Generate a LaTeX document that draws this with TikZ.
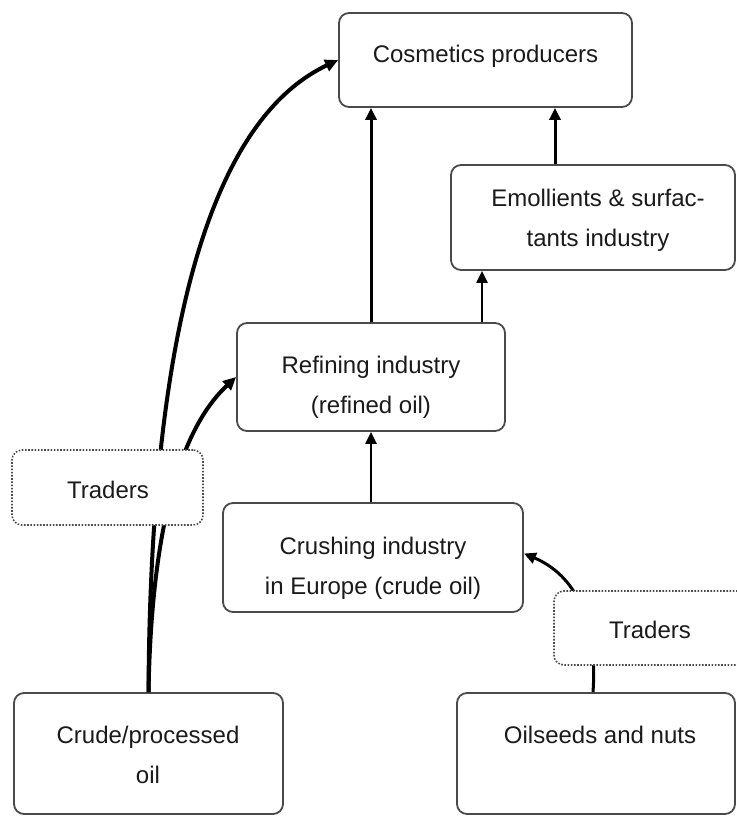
\documentclass[tikz,border=0pt]{standalone}
\usepackage{fontspec}
\setmainfont{Liberation Sans}
\usetikzlibrary{arrows.meta}
\definecolor{boxgray}{HTML}{4A4A4A}
\definecolor{txtcol}{HTML}{1A1A1A}
\tikzset{
  box/.style={draw=boxgray, line width=1.8pt, rounded corners=10pt, fill=white, inner sep=0pt},
  dotbox/.style={draw=boxgray, line width=1.6pt, dash pattern=on 1.6pt off 1.6pt, rounded corners=10pt, fill=white, inner sep=0pt},
  txt/.style={font=\fontsize{24}{40}\selectfont, text=txtcol, align=center, inner sep=0pt},
  thinarrow/.style={draw=black, line width=2.2pt, -{Triangle[length=12pt,width=11pt]}},
  midarrow/.style={draw=black, line width=3pt, -{Triangle[length=12pt,width=11pt]}},
  thickarrow/.style={draw=black, line width=4pt, -{Triangle[length=13pt,width=12pt]}},
}
\begin{document}
\begin{tikzpicture}[x=1pt,y=-1pt]
\useasboundingbox (0,0) rectangle (736,816);

% coordinates for connector paths
\coordinate (c1) at (150,400);
\coordinate (c2) at (190,130);
\coordinate (c3) at (152,500);
\coordinate (c4) at (190,420);
\coordinate (c5) at (598,620);
\coordinate (c6) at (575,575);

% boxes
\node[box, minimum width=293pt, minimum height=94pt] (cos) at (485.5,60) {};
\node[box, minimum width=284pt, minimum height=105pt] (emo) at (593,217.5) {};
\node[box, minimum width=268pt, minimum height=108pt] (ref) at (371,377) {};
\node[box, minimum width=300pt, minimum height=109pt] (cru) at (373,557.5) {};
\node[box, minimum width=269pt, minimum height=121pt] (crude) at (148.5,753.5) {};
\node[box, minimum width=278pt, minimum height=121pt] (seed) at (596,753.5) {};

% connectors
\draw[thickarrow] (crude.north) .. controls (c1) and (c2) .. (cos.west);
\draw[thickarrow] (crude.north) .. controls (c3) and (c4) .. (ref.west);
\draw[midarrow] (ref.north) -- (cos.south -| ref.north);
\draw[thinarrow] (cru.north -| ref.south) -- (ref.south);
\draw[thinarrow] ([xshift=111pt]ref.north) -- ([xshift=111pt]ref.north |- emo.south);
\draw[midarrow] ([xshift=-38pt]emo.north) -- ([xshift=-38pt]emo.north |- cos.south);
\draw[midarrow] ([xshift=-3pt]seed.north) .. controls (c5) and (c6) .. ([yshift=4pt]cru.east);

% traders boxes on top of the lines
\node[dotbox, minimum width=191pt, minimum height=75pt] (trL) at (107.5,487.5) {};
\node[dotbox, minimum width=200pt, minimum height=74pt] (trR) at (654,628) {};

% texts
\node[txt] (cosT) at (485.5,56) {Cosmetics producers};
\node[txt] (emoT) at (598,220) {Emollients \& surfac-\\tants industry};
\node[txt] (refT) at (371,387) {Refining industry\\(refined oil)};
\node[txt] (cruT) at (373,568) {Crushing industry\\in Europe (crude oil)};
\node[txt] (crudeT) at (148,755) {Crude/processed\\oil};
\node[txt] (seedT) at (600,735) {Oilseeds and nuts};
\node[txt] (trLT) at (108,490) {Traders};
\node[txt] (trRT) at (650,630) {Traders};
\end{tikzpicture}
\end{document}
